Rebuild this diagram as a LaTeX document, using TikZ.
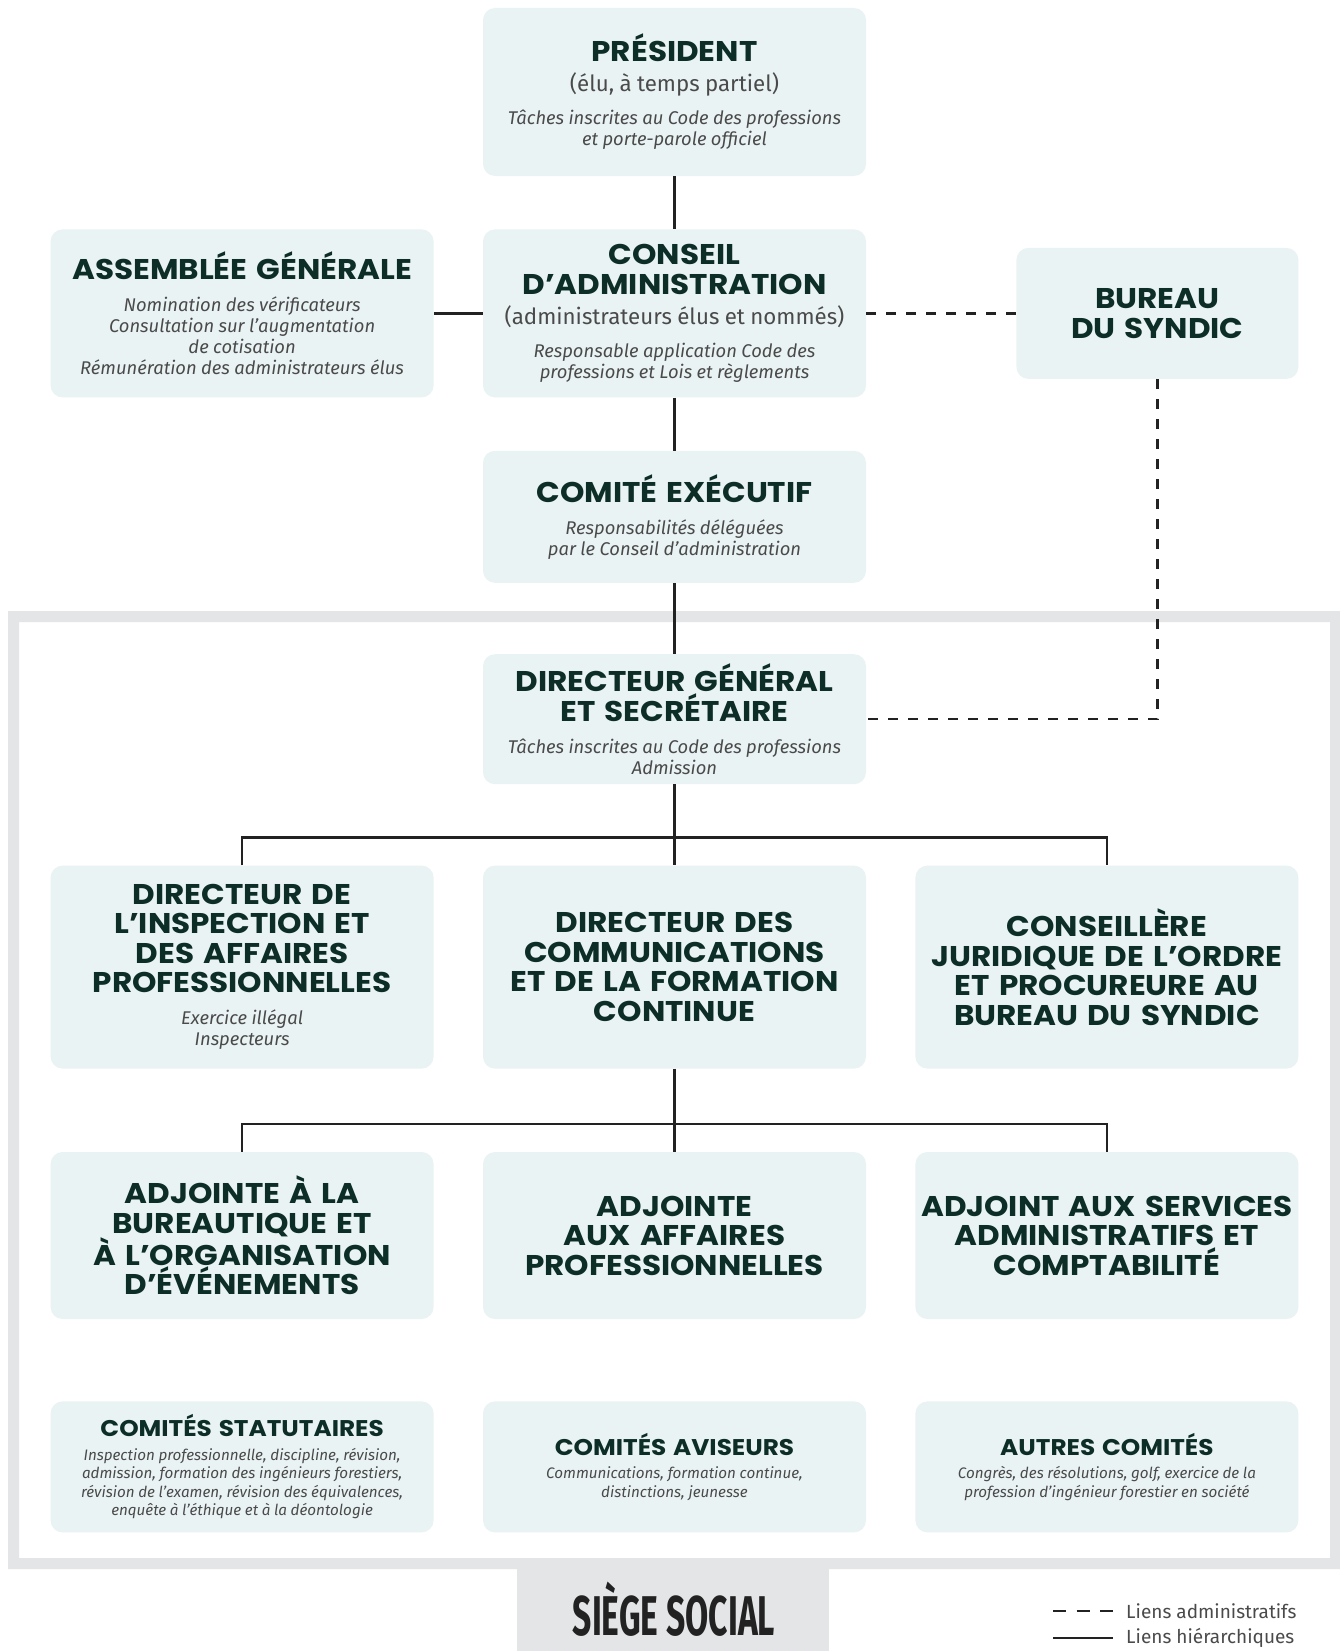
\documentclass[tikz,border=0pt]{standalone}
\usepackage{fontspec}
\setmainfont{Fira Sans}
\newfontfamily\titrefont[FakeStretch=1.09, Ligatures=TeX]{Poppins}
\newfontfamily\siegefont[FakeStretch=0.6]{Fira Sans}
\definecolor{fond}{HTML}{EAF3F4}
\definecolor{vert}{HTML}{0C2E26}
\definecolor{gristxt}{HTML}{4A4A4A}
\definecolor{cadre}{HTML}{E4E5E7}
\definecolor{trait}{HTML}{222222}
\usepackage{tikz}
\usetikzlibrary{positioning, backgrounds}
\setlength{\parindent}{0pt}
\newcommand{\titre}{\normalfont\titrefont\bfseries\fontsize{28.5}{29.5}\selectfont\spaceskip=.32em\relax\color{vert}}
\newcommand{\sstitre}{\normalfont\fontsize{22.3}{30}\selectfont\spaceskip=.24em\relax\color{gristxt}}
\newcommand{\desc}{\normalfont\itshape\fontsize{18.4}{21}\selectfont\spaceskip=.24em\relax\color{gristxt}}
\newcommand{\ctitre}{\normalfont\titrefont\bfseries\fontsize{22.7}{26}\selectfont\spaceskip=.3em\relax\color{vert}}
\newcommand{\cdesc}{\normalfont\itshape\fontsize{15.2}{18.5}\selectfont\spaceskip=.24em\relax\color{gristxt}}

\begin{document}
\begin{tikzpicture}[
  node distance=53pt and 49pt,
  boite/.style={fill=fond, rounded corners=12pt, inner sep=0pt,
                text width=376pt, minimum width=383pt, minimum height=168pt,
                align=center},
  lien/.style={draw=trait, line width=2.5pt},
  lienadm/.style={lien, dash pattern=on 10pt off 10pt},
  legende/.style={font=\fontsize{19}{21}\selectfont, text=gristxt, anchor=west, inner sep=0pt}
]
\useasboundingbox (0,0) rectangle (1340pt,-1651pt);

% colonne du haut
\node[boite] (pres) at (674.5pt,-92pt) {\titre PRÉSIDENT\par
  \sstitre (élu, à temps partiel)\par\vspace{12pt}
  \desc Tâches inscrites au Code des professions\\et porte-parole officiel\par};
\node[boite, below=of pres] (ca) {\titre CONSEIL\\D'ADMINISTRATION\par
  \sstitre (administrateurs élus et nommés)\par\vspace{12pt}
  \desc Responsable application Code des\\professions et Lois et règlements\par};
\node[boite, left=of ca] (ag) {\titre ASSEMBLÉE GÉNÉRALE\par\vspace{11pt}
  \desc Nomination des vérificateurs\\Consultation sur l'augmentation\\de cotisation\\Rémunération des administrateurs élus\par};
\node[boite, right=150pt of ca, minimum width=282pt, minimum height=131pt, text width=270pt] (bs)
  {\titre BUREAU\\DU SYNDIC\par};
\node[boite, below=of ca, minimum height=132pt] (ce) {\titre COMITÉ EXÉCUTIF\par\vspace{11pt}
  \desc Responsabilités déléguées\\par le Conseil d'administration\par};
\node[boite, below=71pt of ce, minimum height=130pt] (dg) {\titre DIRECTEUR GÉNÉRAL\\ET SECRÉTAIRE\par\vspace{11pt}
  \desc Tâches inscrites au Code des professions\\Admission\par};

% directeurs
\node[boite, below=81pt of dg, minimum height=203pt] (dircom)
  {\titre DIRECTEUR DES\\COMMUNICATIONS\\ET DE LA FORMATION\\CONTINUE\par};
\node[boite, left=of dircom, minimum height=203pt] (dirinsp)
  {\titre DIRECTEUR DE\\L'INSPECTION ET\\DES AFFAIRES\\PROFESSIONNELLES\par\vspace{11pt}
   \desc Exercice illégal\\Inspecteurs\par};
\node[boite, right=of dircom, minimum height=203pt] (consjur)
  {\titre CONSEILLÈRE\\JURIDIQUE DE L'ORDRE\\ET PROCUREURE AU\\BUREAU DU SYNDIC\par};

% adjoints
\node[boite, below=83pt of dircom, minimum height=167pt] (adjaff)
  {\titre ADJOINTE\\AUX AFFAIRES\\PROFESSIONNELLES\par};
\node[boite, left=of adjaff, minimum height=167pt] (adjbur)
  {\titre ADJOINTE À LA\\BUREAUTIQUE ET\\À L'ORGANISATION\\D'ÉVÉNEMENTS\par};
\node[boite, right=of adjaff, minimum height=167pt] (adjadm)
  {\titre ADJOINT AUX SERVICES\\ADMINISTRATIFS ET\\COMPTABILITÉ\par};

% comites
\node[boite, below=82pt of adjaff, minimum height=131pt] (comav)
  {\ctitre COMITÉS AVISEURS\par\vspace{5pt}
   \cdesc Communications, formation continue,\\distinctions, jeunesse\par};
\node[boite, left=of comav, minimum height=131pt] (comstat)
  {\ctitre COMITÉS STATUTAIRES\par\vspace{5pt}
   \cdesc Inspection professionnelle, discipline, révision,\\admission, formation des ingénieurs forestiers,\\révision de l'examen, révision des équivalences,\\enquête à l'éthique et à la déontologie\par};
\node[boite, right=of comav, minimum height=131pt] (comaut)
  {\ctitre AUTRES COMITÉS\par\vspace{5pt}
   \cdesc Congrès, des résolutions, golf, exercice de la\\profession d'ingénieur forestier en société\par};

% liens
\draw[lien] (pres) -- (ca);
\draw[lien] (ag) -- (ca);
\draw[lienadm] (ca) -- (bs);
\draw[lien] (ca) -- (ce);
\draw[lien] (ce) -- (dg);
\draw[lienadm] (bs) |- (dg);
\draw[lien] (dg) -- (dircom);
\draw[lien] (dirinsp) |- ([yshift=28pt]dircom.north) -| (consjur);
\draw[lien] (dircom) -- (adjaff);
\draw[lien] (adjbur) |- ([yshift=28pt]adjaff.north) -| (adjadm);

% siege social
\node[font=\siegefont\bfseries\fontsize{56}{58}\selectfont, text=trait, inner sep=0pt] (siege) at (674pt,-1609pt) {SIÈGE SOCIAL};

% legende
\coordinate (la1) at (1053pt,-1611pt);
\coordinate[right=60pt of la1] (la2);
\coordinate (lh1) at (1053pt,-1638pt);
\coordinate[right=60pt of lh1] (lh2);
\node[legende, right=13pt of la2] (legadm) {Liens administratifs};
\node[legende, right=13pt of lh2] (leghie) {Liens hiérarchiques};
\draw[lien, dash pattern=on 13pt off 10.5pt] (la1) -- (la2);
\draw[lien] (lh1) -- (lh2);

\begin{scope}[on background layer]
  \fill[white] (0,0) rectangle (1340pt,-1651pt);
  \fill[cadre, even odd rule] (8pt,-611pt) rectangle (1345pt,-1569pt)
                              (19pt,-622pt) rectangle (1330pt,-1558pt);
  \fill[cadre] (517pt,-1569pt) rectangle (829pt,-1651pt);
\end{scope}
\end{tikzpicture}
\end{document}
